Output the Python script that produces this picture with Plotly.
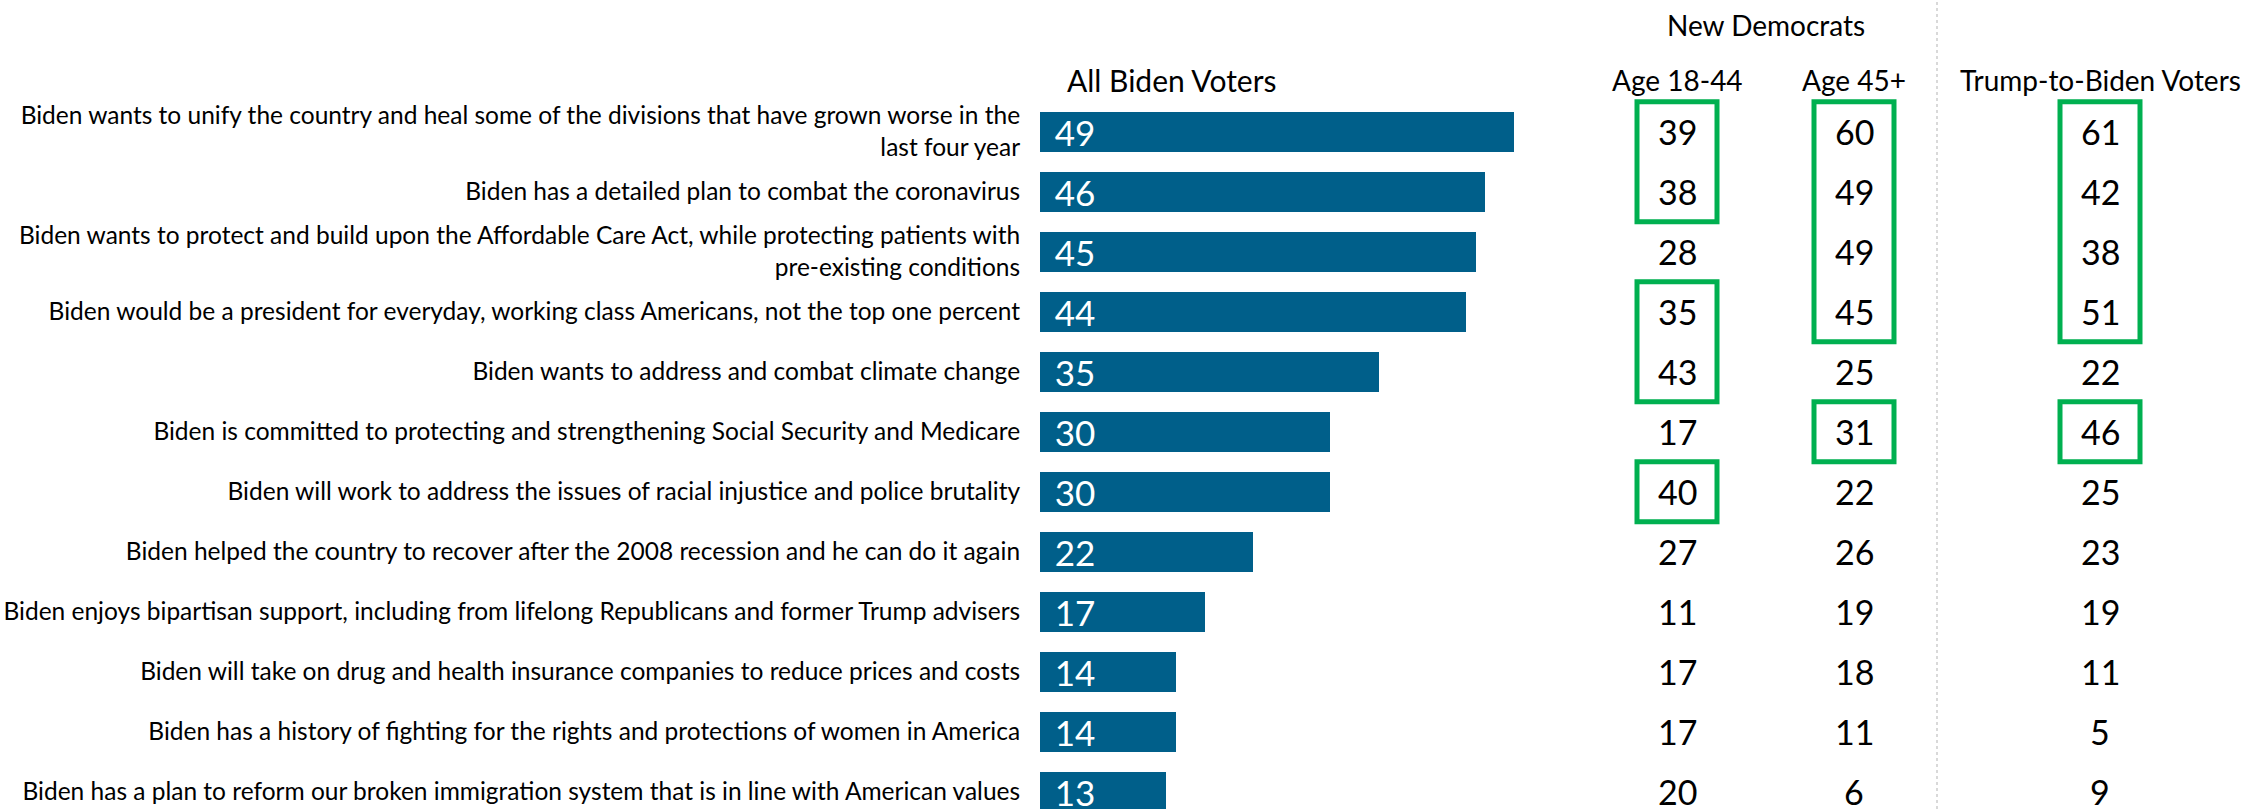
import plotly.graph_objects as go

W, H = 2267, 809

labels = [
    "Biden wants to unify the country and heal some of the divisions that have grown worse in the<br>last four year",
    "Biden has a detailed plan to combat the coronavirus",
    "Biden wants to protect and build upon the Affordable Care Act, while protecting patients with<br>pre-existing conditions",
    "Biden would be a president for everyday, working class Americans, not the top one percent",
    "Biden wants to address and combat climate change",
    "Biden is committed to protecting and strengthening Social Security and Medicare",
    "Biden will work to address the issues of racial injustice and police brutality",
    "Biden helped the country to recover after the 2008 recession and he can do it again",
    "Biden enjoys bipartisan support, including from lifelong Republicans and former Trump advisers",
    "Biden will take on drug and health insurance companies to reduce prices and costs",
    "Biden has a history of fighting for the rights and protections of women in America",
    "Biden has a plan to reform our broken immigration system that is in line with American values",
]
all_biden = [49, 46, 45, 44, 35, 30, 30, 22, 17, 14, 14, 13]
age_18_44 = [39, 38, 28, 35, 43, 17, 40, 27, 11, 17, 17, 20]
age_45_plus = [60, 49, 49, 45, 25, 31, 22, 26, 19, 18, 11, 6]
trump_to_biden = [61, 42, 38, 51, 22, 46, 25, 23, 19, 11, 5, 9]

col_headers = ["Age 18-44", "Age 45+", "Trump-to-Biden Voters"]
group_header = "New Democrats"
bar_header = "All Biden Voters"

# highlighted cells: (column index, first row, last row)
highlights = [(0, 0, 1), (0, 3, 4), (0, 6, 6),
              (1, 0, 3), (1, 5, 5),
              (2, 0, 3), (2, 5, 5)]

BAR_COLOR = "#005F8A"
GREEN = "#00B050"
FONT = "Lato"

# layout geometry (pixels)
bar_left_px = 1040
px_per_unit = 9.68
row0_px = 131.7
row_px = 60.0
col_x_px = [1677, 1854, 2100]
box_half_w = 40

y_top = -row0_px / row_px
y_bot = (H - row0_px) / row_px

fig = go.Figure()
fig.add_trace(go.Bar(
    x=all_biden, y=labels, orientation="h",
    marker=dict(color=BAR_COLOR, line=dict(width=0)),
    width=0.667,
    text=all_biden,
    texttemplate="\u2004%{x}",
    textposition="inside", insidetextanchor="start",
    constraintext="none", textangle=0,
    textfont=dict(family=FONT, size=35, color="white"),
    hoverinfo="skip",
))

cols = [age_18_44, age_45_plus, trump_to_biden]
for ci, vals in enumerate(cols):
    for ri, v in enumerate(vals):
        fig.add_annotation(x=col_x_px[ci] / W, xref="paper", y=labels[ri], yref="y",
                           text=str(v), showarrow=False,
                           font=dict(family=FONT, size=34, color="black"),
                           xanchor="center", yanchor="middle")

for ci, r0, r1 in highlights:
    fig.add_shape(type="rect", xref="paper", yref="y",
                  x0=(col_x_px[ci] - box_half_w) / W, x1=(col_x_px[ci] + box_half_w) / W,
                  y0=r0 - 0.5, y1=r1 + 0.5,
                  line=dict(color=GREEN, width=5), fillcolor="rgba(0,0,0,0)")

# headers
for ci, h in enumerate(col_headers):
    fig.add_annotation(x=col_x_px[ci] / W, xref="paper", y=1 - 80 / H, yref="paper",
                       text=h, showarrow=False, xanchor="center", yanchor="middle",
                       font=dict(family=FONT, size=28, color="black"))
fig.add_annotation(x=(col_x_px[0] + col_x_px[1]) / 2 / W, xref="paper", y=1 - 25 / H, yref="paper",
                   text=group_header, showarrow=False, xanchor="center", yanchor="middle",
                   font=dict(family=FONT, size=28, color="black"))
fig.add_annotation(x=1065 / W, xref="paper", y=1 - 80 / H, yref="paper",
                   text=bar_header, showarrow=False, xanchor="left", yanchor="middle",
                   font=dict(family=FONT, size=30, color="black"))

# dotted separator
fig.add_shape(type="line", xref="paper", yref="paper", x0=1937 / W, x1=1937 / W, y0=0, y1=1,
              line=dict(color="#D9D9D9", width=2, dash="dot"))

fig.update_layout(
    width=W, height=H,
    margin=dict(l=0, r=0, t=0, b=0),
    paper_bgcolor="white", plot_bgcolor="white",
    showlegend=False,
    bargap=0,
    xaxis=dict(domain=[bar_left_px / W, 1], range=[0, (W - bar_left_px) / px_per_unit],
               visible=False, fixedrange=True),
    yaxis=dict(range=[y_bot, y_top], showgrid=False, zeroline=False, showline=False,
               ticks="outside", ticklen=14, tickcolor="rgba(0,0,0,0)",
               tickfont=dict(family=FONT, size=24.5, color="black"),
               automargin=False, fixedrange=True),
)

fig.write_html("out.html", config={"displayModeBar": False},
               post_script="document.body.style.margin='0';document.body.style.overflow='hidden';")
